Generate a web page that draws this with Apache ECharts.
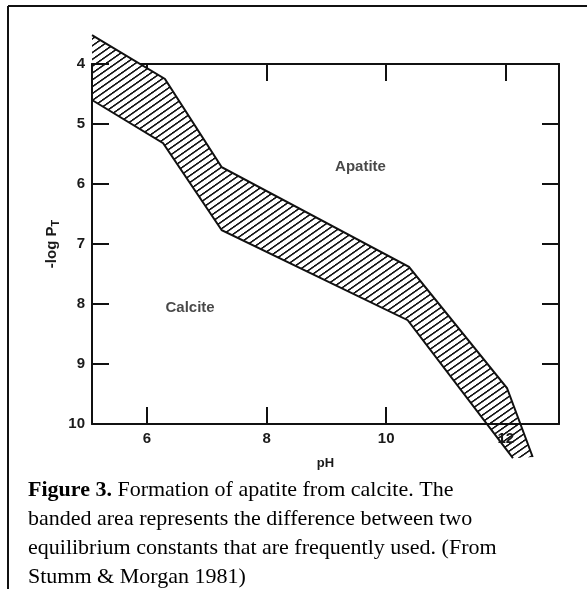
<!DOCTYPE html>
<html>
<head>
<meta charset="utf-8">
<script src="https://cdn.jsdelivr.net/npm/echarts@6/dist/echarts.min.js"></script>
<style>
html,body{margin:0;padding:0;background:#fff;}
#main{width:587px;height:589px;}
</style>
</head>
<body>
<div id="main"></div>
<script>
// axis ranges (pH across, -log PT down)
var phRange = [5.08, 12.89];
var logRange = [4, 10];
var phLabels = [6, 8, 10, 12];
var phTicksBottom = [6, 8, 10];
var phTicksTop = [6, 8, 10, 12];

// band boundaries
var upperPH = [5.08, 6.30, 7.25, 10.38, 12.02, 12.45];
var upperLogP = [3.52, 4.25, 5.72, 7.38, 9.40, 10.55];
var lowerPH = [5.08, 6.27, 7.25, 10.36, 12.12];
var lowerLogP = [4.60, 5.32, 6.77, 8.27, 10.57];

// field labels
var regionNames = ['Apatite', 'Calcite'];
var regionPH = [9.57, 6.72];
var regionLogP = [5.72, 8.07];

var captionLines = [
	'{b|Figure 3.} Formation of apatite from calcite. The',
	'banded area represents the difference between two',
	'equilibrium constants that are frequently used. (From',
	'Stumm & Morgan 1981)'
];

function makeHatch() {
	var c = document.createElement('canvas');
	c.width = 4;
	c.height = 10;
	var ctx = c.getContext('2d');
	ctx.fillStyle = '#fff';
	ctx.fillRect(0, 0, 4, 10);
	ctx.fillStyle = '#111';
	ctx.fillRect(0, 0, 4, 2.8);
	return {image: c, repeat: 'repeat', rotation: -35 * Math.PI / 180, scaleX: 1, scaleY: 0.56};
}

function init() {
	var chart = echarts.init(document.getElementById('main'));
	var hatch = makeHatch();
	var sans = '"Liberation Sans", Arial, sans-serif';
	var serif = '"Liberation Serif", "Times New Roman", serif';

	var labelData = [];
	for (var i = 0; i < regionNames.length; i++) {
		labelData.push([regionPH[i], regionLogP[i], regionNames[i]]);
	}

	var graphics = [
		{type: 'line', shape: {x1: 8, y1: 6, x2: 587, y2: 6}, style: {stroke: '#111', lineWidth: 2}},
		{type: 'line', shape: {x1: 8, y1: 6, x2: 8, y2: 589}, style: {stroke: '#111', lineWidth: 2}}
	];
	for (var k = 0; k < captionLines.length; k++) {
		graphics.push({
			type: 'text',
			left: 28,
			top: 479 + k * 29,
			style: {
				text: captionLines[k],
				font: '22px ' + serif,
				fill: '#000',
				rich: {b: {fontWeight: 'bold', fontSize: 22, fontFamily: serif}}
			}
		});
	}

	var axisLabelStyle = {fontSize: 15, fontWeight: 'bold', fontFamily: sans, color: '#1a1a1a'};

	var option = {
		animation: false,
		backgroundColor: '#fff',
		grid: {left: 92, top: 64, right: 28, bottom: 165},
		xAxis: [
			{
				type: 'value', position: 'bottom', min: phRange[0], max: phRange[1],
				z: 3,
				name: 'pH', nameLocation: 'middle', nameGap: 33, nameMoveOverlap: false,
				nameTextStyle: {fontSize: 13, fontWeight: 'bold', fontFamily: sans, color: '#1a1a1a'},
				axisLine: {lineStyle: {color: '#111', width: 2}},
				axisTick: {inside: true, length: 17, customValues: phTicksBottom, lineStyle: {color: '#111', width: 2}},
				axisLabel: Object.assign({margin: 7, customValues: phLabels}, axisLabelStyle),
				splitLine: {show: false}
			},
			{
				type: 'value', position: 'top', min: phRange[0], max: phRange[1],
				axisLine: {lineStyle: {color: '#111', width: 2}},
				axisTick: {inside: true, length: 17, customValues: phTicksTop, lineStyle: {color: '#111', width: 2}},
				axisLabel: {show: false},
				splitLine: {show: false}
			}
		],
		yAxis: [
			{
				type: 'value', position: 'left', inverse: true, min: logRange[0], max: logRange[1], interval: 1,
				z: 3,
				name: '{a|-log P}{s|T}', nameLocation: 'middle', nameGap: 31, nameRotate: 90, nameMoveOverlap: false,
				nameTextStyle: {
					rich: {
						a: {fontSize: 15, fontWeight: 'bold', fontFamily: sans, color: '#1a1a1a'},
						s: {fontSize: 11, fontWeight: 'bold', fontFamily: sans, color: '#1a1a1a', padding: [8, 0, 0, 0]}
					}
				},
				axisLine: {lineStyle: {color: '#111', width: 2}},
				axisTick: {inside: true, length: 17, lineStyle: {color: '#111', width: 2}},
				axisLabel: Object.assign({margin: 7}, axisLabelStyle),
				splitLine: {show: false}
			},
			{
				type: 'value', position: 'right', inverse: true, min: logRange[0], max: logRange[1], interval: 1,
				axisLine: {lineStyle: {color: '#111', width: 2}},
				axisTick: {inside: true, length: 17, lineStyle: {color: '#111', width: 2}},
				axisLabel: {show: false},
				splitLine: {show: false}
			}
		],
		series: [
			{
				type: 'custom',
				coordinateSystem: 'cartesian2d',
				xAxisIndex: 0,
				yAxisIndex: 0,
				clip: false,
				silent: true,
				data: [[lowerPH[0], lowerLogP[0]]],
				renderItem: function (params, api) {
					var up = upperPH.map(function (p, i) { return api.coord([p, upperLogP[i]]); });
					var lo = lowerPH.map(function (p, i) { return api.coord([p, lowerLogP[i]]); });
					var poly = up.concat(lo.slice().reverse());
					return {
						type: 'group',
						children: [
							{type: 'polygon', shape: {points: poly}, style: {fill: hatch}},
							{type: 'polyline', shape: {points: up}, style: {stroke: '#111', lineWidth: 2, fill: null}},
							{type: 'polyline', shape: {points: lo}, style: {stroke: '#111', lineWidth: 2, fill: null}}
						]
					};
				}
			},
			{
				type: 'scatter',
				xAxisIndex: 0,
				yAxisIndex: 0,
				symbolSize: 0,
				silent: true,
				data: labelData,
				label: {
					show: true,
					position: 'inside',
					formatter: function (p) { return p.value[2]; },
					fontSize: 15, fontWeight: 'bold', fontFamily: sans, color: '#1a1a1a'
				}
			}
		],
		graphic: graphics
	};
	chart.setOption(option);
}
init();
</script>
</body>
</html>
